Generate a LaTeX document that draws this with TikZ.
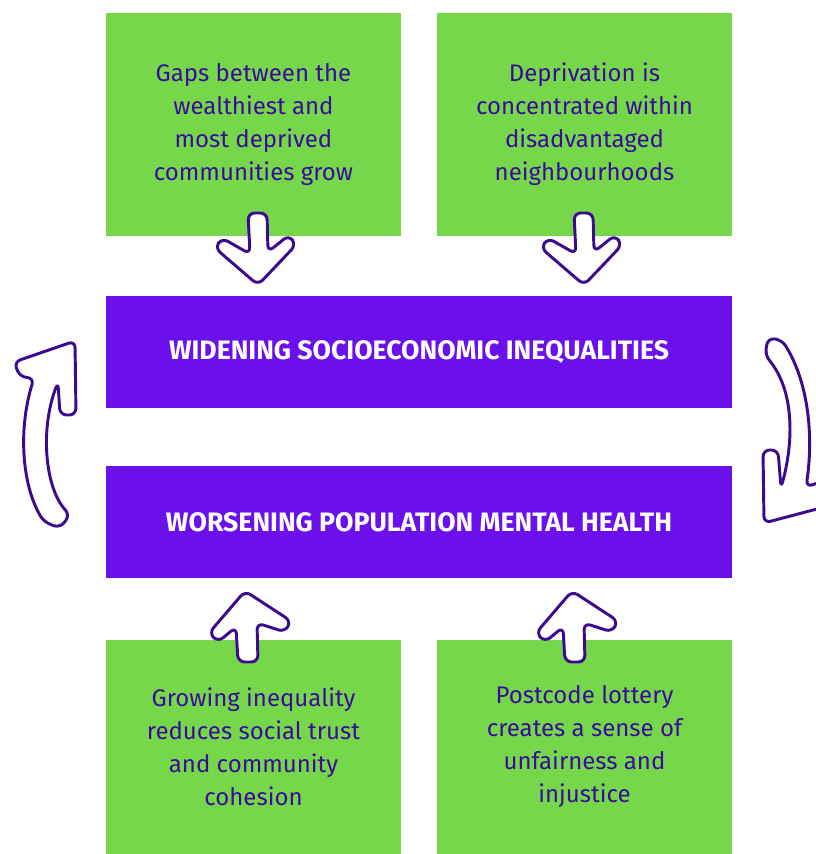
\documentclass[tikz,border=0pt]{standalone}
\usepackage{fontspec}
\setmainfont{Fira Sans}
\usetikzlibrary{positioning,calc}
\definecolor{leafgreen}{HTML}{77D74B}
\definecolor{deepviolet}{HTML}{6C10EB}
\definecolor{inkpurple}{HTML}{3A0C9A}
\definecolor{handline}{HTML}{3B0A8E}

\tikzset{
  downhand/.pic={\draw[hand] (0,0) -- (-43,-37) -- (-36,-47) -- (-8,-31) -- (-10,-72) -- (9,-72) -- (10,-33) -- (31,-50) -- (38,-40) -- cycle;},
  uphand/.pic={\draw[hand] (0,0) -- (46,30) -- (40,41) -- (12,32) -- (13,71) -- (-7,71) -- (-9,36) -- (-27,51) -- (-36,42) -- cycle;}
}

\begin{document}
\begin{tikzpicture}[%
        x=0.75pt, y=-0.75pt,
        every node/.style={inner sep=0pt, outer sep=0pt},
        cause/.style={fill=leafgreen, minimum width=221.25pt, minimum height=167.25pt, text=inkpurple, align=center, font=\fontsize{18}{24.75}\selectfont},
        causelow/.style={cause, minimum height=160.5pt},
        band/.style={fill=deepviolet, minimum width=469.5pt, minimum height=84pt, text=white, font=\bfseries\fontsize{20}{20}\selectfont},
        hand/.style={draw=handline, fill=white, line width=2.2pt, line join=round, rounded corners=5pt}
      ]
      \useasboundingbox (0,0) rectangle (816,854);
      \clip (0,0) rectangle (816,854);
      % causes above
      \node [cause] (gap) at (253.5,124.5) {Gaps between the\\wealthiest and\\most deprived\\communities grow};
      \node [cause, right=27pt of gap] (depr) {Deprivation is\\concentrated within\\disadvantaged\\neighbourhoods};
      % the two bands
      \node [band] (widen) at (419,352) {WIDENING SOCIOECONOMIC INEQUALITIES};
      \node [band, below=43.5pt of widen] (worsen) {WORSENING POPULATION MENTAL HEALTH};
      % causes below
      \node [causelow] (grow) at (253.5,747) {Growing inequality\\reduces social trust\\and community\\cohesion};
      \node [causelow, right=27pt of grow] (post) {Postcode lottery\\creates a sense of\\unfairness and\\injustice};
      % hand drawn arrows
      \coordinate (downA) at ($(gap.south)+(4.5,49)$);
      \coordinate (downB) at ($(depr.south)+(-0.5,49)$);
      \coordinate (upA) at ($(grow.north)+(-8.5,-49)$);
      \coordinate (upB) at ($(post.north)+(-12.5,-49)$);
      \pic at (downA) {downhand};
      \pic at (downB) {downhand};
      \pic at (upA) {uphand};
      \pic at (upB) {uphand};
      \draw [hand] (75,341) -- (14,362) -- (20,377) -- (34,378) .. controls (18,430) and (22,485) .. (44,522) -- (60,528) -- (70,515) .. controls (45,488) and (40,430) .. (58,382) -- (60,415) -- (76,415) -- cycle;
      \draw [hand] (768,338) -- (782,340) .. controls (810,385) and (813,440) .. (806,487) -- (832,478) -- (832,505) -- (764,523) -- (763,450) -- (778,450) -- (781,488) .. controls (794,440) and (794,390) .. (765,355) -- cycle;
    \end{tikzpicture}
\end{document}
